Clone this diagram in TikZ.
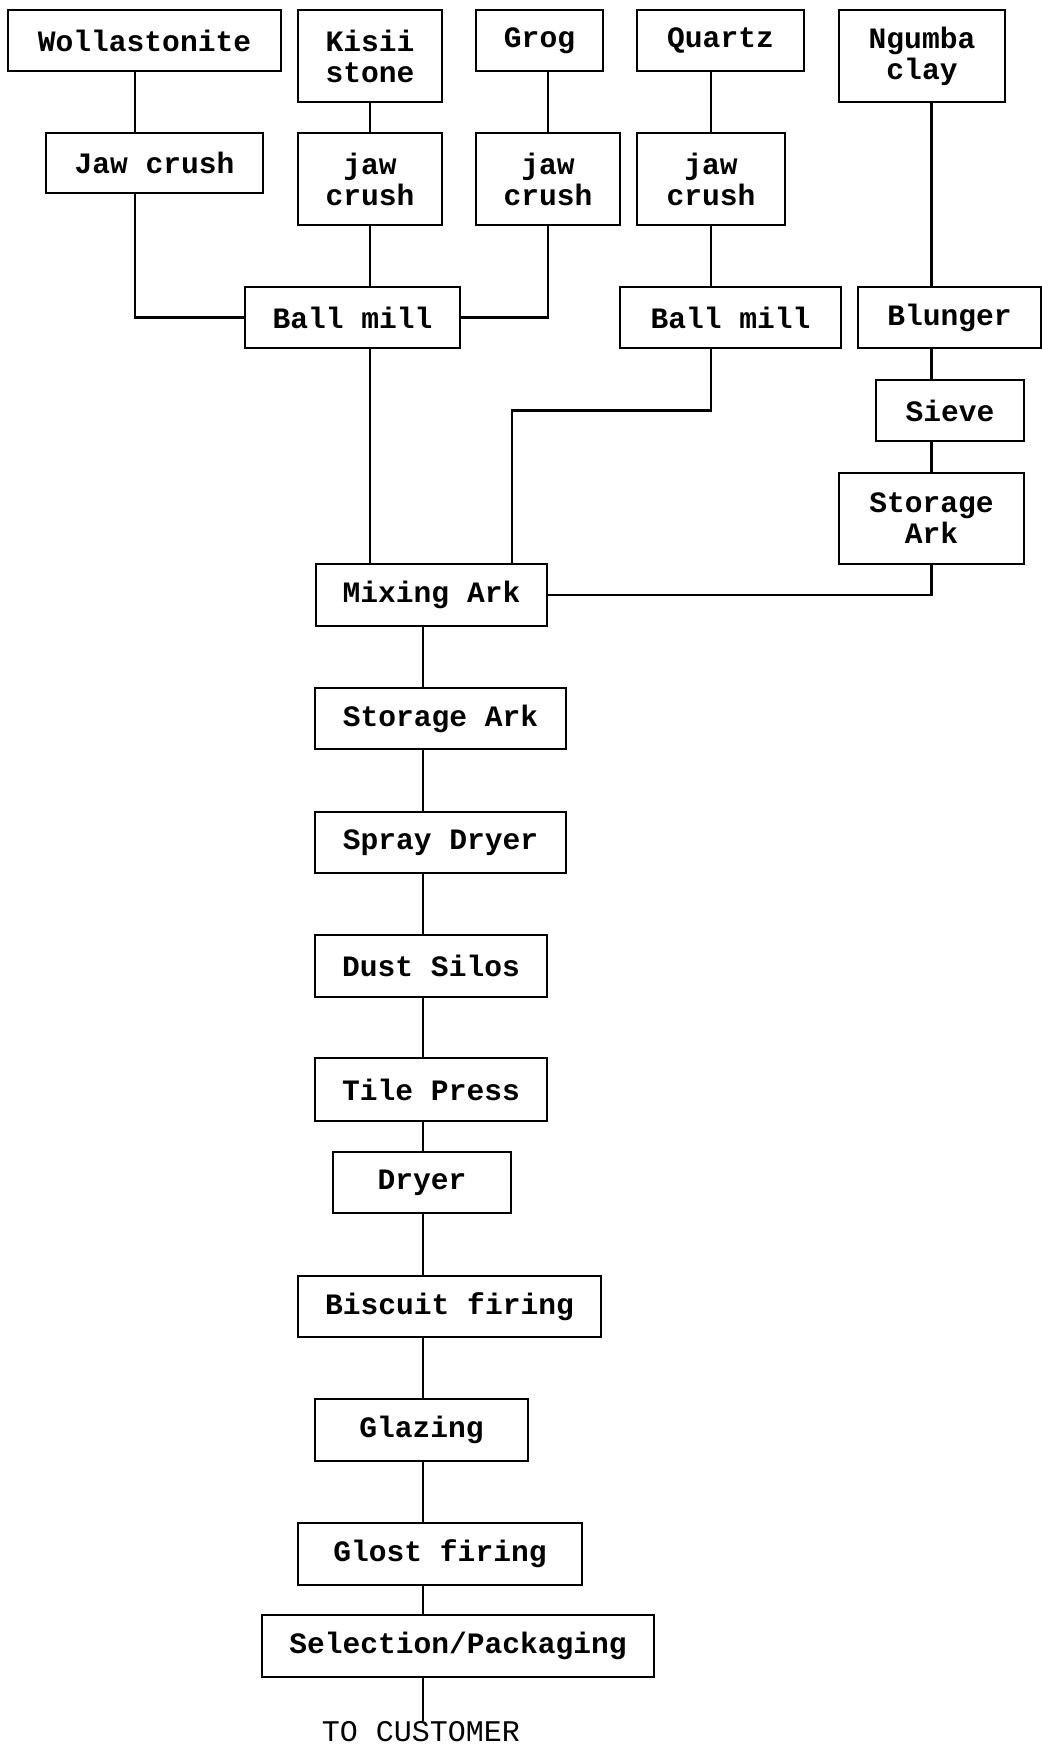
\documentclass[tikz,border=0pt]{standalone}
\usepackage{fontspec}
\setmonofont{Liberation Mono}
\usepackage{tikz}
\usetikzlibrary{positioning}

\begin{document}
\begin{tikzpicture}[
    box/.style={rectangle, draw, line width=1.1pt, minimum height=30.5pt,
                inner sep=0pt, outer sep=0pt, align=center,
                font=\fontsize{14.8}{15.5}\selectfont\ttfamily\bfseries},
    tall/.style={minimum height=46pt},
    link/.style={line width=1.1pt},
    note/.style={inner sep=0pt, outer sep=0pt, font=\fontsize{15}{16}\selectfont\ttfamily},
]
    \useasboundingbox (0,0) rectangle (521pt,-872.5pt);

    % Raw materials
    \node[box, minimum width=136.5pt] (wol) at (72.25pt,-20.25pt) {Wollastonite};
    \node[box, tall, minimum width=72pt, right=8.5pt of wol.north east, anchor=north west] (kisii) {Kisii\\stone};
    \node[box, minimum width=63.5pt, right=17pt of kisii.north east, anchor=north west] (grog) {Grog};
    \node[box, minimum width=83.5pt, right=17pt of grog.north east, anchor=north west] (quartz) {Quartz};
    \node[box, tall, minimum width=83pt, right=17.5pt of quartz.north east, anchor=north west] (clay) {Ngumba\\clay};

    % Crushing
    \node[box, minimum width=108.5pt, minimum height=30pt, below=31pt of wol, xshift=5pt] (jaww) {Jaw crush};
    \node[box, tall, minimum width=72pt, below=15.5pt of kisii] (jawk) {jaw\\crush};
    \node[box, tall, minimum width=72pt, below=31pt of grog, xshift=4.25pt] (jawg) {jaw\\crush};
    \node[box, tall, minimum width=74pt, below=31pt of quartz, xshift=-4.75pt] (jawq) {jaw\\crush};

    % Milling / clay line
    \node[box, minimum width=107.5pt, below=31pt of jawk, xshift=-8.75pt] (mill1) {Ball mill};
    \node[box, minimum width=110.5pt, below=31pt of jawq, xshift=9.75pt] (mill2) {Ball mill};
    \node[box, minimum width=91.5pt, right=8.5pt of mill2] (blunger) {Blunger};
    \node[box, minimum width=74pt, below=16pt of blunger, xshift=0.25pt] (sieve) {Sieve};
    \node[box, minimum width=92.5pt, minimum height=45.5pt, below=16pt of sieve, xshift=-9.25pt] (storr) {Storage\\Ark};

    % Body preparation
    \node[box, minimum width=115.5pt, minimum height=31pt, below=108pt of mill1, xshift=39.5pt] (mix) {Mixing Ark};
    \node[box, minimum width=125.5pt, below=31pt of mix, xshift=4.5pt] (stora) {Storage Ark};
    \node[box, minimum width=125.5pt, below=31.5pt of stora] (spray) {Spray Dryer};
    \node[box, minimum width=116pt, minimum height=31pt, below=31pt of spray, xshift=-4.75pt] (dust) {Dust Silos};

    % Forming and firing
    \node[box, minimum width=116pt, minimum height=31.5pt, below=30.5pt of dust] (tile) {Tile Press};
    \node[box, minimum width=89pt, below=15.5pt of tile, xshift=-4.5pt] (dryer) {Dryer};
    \node[box, minimum width=151.5pt, below=31.5pt of dryer, xshift=13.75pt] (bisc) {Biscuit firing};
    \node[box, minimum width=106.5pt, minimum height=31pt, below=31pt of bisc, xshift=-14pt] (glaz) {Glazing};
    \node[box, minimum width=142pt, minimum height=31pt, below=31pt of glaz, xshift=9.25pt] (glost) {Glost firing};
    \node[box, minimum width=196pt, minimum height=31pt, below=15pt of glost, xshift=9pt] (sel) {Selection/Packaging};
    \node[note, below=22pt of sel, xshift=-18.5pt] (cust) {TO CUSTOMER};

    % Connector helpers
    \coordinate (wolx) at ([xshift=-4.75pt]wol.south);
    \coordinate (mixq) at ([xshift=40.25pt]mix.north);
    \coordinate (spine) at ([xshift=-4.25pt]mix.south);

    % Feeds into the ball mills
    \draw[link] (wolx) -- (wolx |- jaww.north);
    \draw[link] (wolx |- jaww.south) |- (mill1.west);
    \draw[link] (kisii.south) -- (jawk.north);
    \draw[link] (jawk.south) -- (jawk.south |- mill1.north);
    \draw[link] (jawg.north) -- (jawg.north |- grog.south);
    \draw[link] (jawg.south) |- (mill1.east);
    \draw[link] (jawq.north) -- (jawq.north |- quartz.south);
    \draw[link] (jawq.south) -- (jawq.south |- mill2.north);

    % Clay line
    \draw[link] (storr.north |- clay.south) -- (storr.north |- blunger.north);
    \draw[link] (storr.north |- blunger.south) -- (storr.north |- sieve.north);
    \draw[link] (storr.north |- sieve.south) -- (storr.north);

    % Into the mixing ark
    \draw[link] (jawk.south |- mill1.south) -- (jawk.south |- mix.north);
    \draw[link] (jawq.south |- mill2.south) |- (mixq |- sieve.west) -- (mixq);
    \draw[link] (storr.south) |- (mix.east);

    % Main line
    \draw[link] (spine) -- (spine |- stora.north);
    \draw[link] (spine |- stora.south) -- (spine |- spray.north);
    \draw[link] (spine |- spray.south) -- (spine |- dust.north);
    \draw[link] (spine |- dust.south) -- (spine |- tile.north);
    \draw[link] (spine |- tile.south) -- (spine |- dryer.north);
    \draw[link] (spine |- dryer.south) -- (spine |- bisc.north);
    \draw[link] (spine |- bisc.south) -- (spine |- glaz.north);
    \draw[link] (spine |- glaz.south) -- (spine |- glost.north);
    \draw[link] (spine |- glost.south) -- (spine |- sel.north);
    \draw[link] (spine |- sel.south) -- (spine |- cust.north);
\end{tikzpicture}
\end{document}
